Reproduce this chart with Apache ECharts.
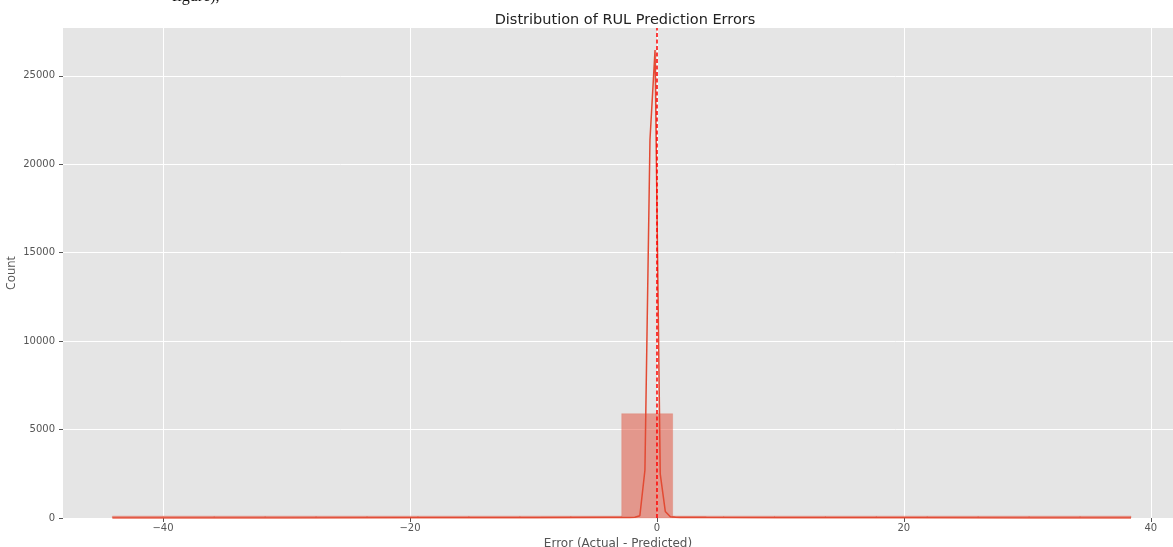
<!DOCTYPE html>
<html>
<head>
<meta charset="utf-8">
<script src="https://cdn.jsdelivr.net/npm/echarts@6/dist/echarts.min.js"></script>
<style>
  html, body { margin: 0; padding: 0; background: #fff; }
  #chart { width: 1173px; height: 547px; }
</style>
</head>
<body>
<div id="chart"></div>
<script>
// Histogram of prediction errors: 20 equal-width bins
const binStart = -44.1;
const binWidth = 4.125;
const binCounts = [6, 4, 5, 8, 6, 9, 10, 14, 18, 30, 5900, 28, 22, 15, 12, 9, 7, 5, 4, 3];

// Kernel density curve (scaled to counts)
const kdeX = [-44.1, -30, -20, -10, -4, -2.61, -2.2, -1.79, -1.38, -0.97, -0.56, -0.15, 0.27, 0.68, 1.09, 1.5, 1.91, 4, 10, 20, 30, 38.4];
const kdeY = [3, 5, 8, 15, 25, 30, 35, 45, 130, 2700, 21400, 26450, 2500, 370, 70, 40, 30, 22, 15, 8, 5, 3];

// Mean error marker
const meanError = -0.03;

// Axis ticks
const xTicks = [-40, -20, 0, 20, 40];
const yTicks = [0, 5000, 10000, 15000, 20000, 25000];

const histData = binCounts.map((c, i) => [binStart + i * binWidth, binStart + (i + 1) * binWidth, c]);
const kdeData = kdeX.map((x, i) => [x, kdeY[i]]);

const chart = echarts.init(document.getElementById('chart'), null, { renderer: 'canvas' });
const font = 'DejaVu Sans, sans-serif';

chart.setOption({
  animation: false,
  backgroundColor: '#ffffff',
  title: {
    text: 'Distribution of RUL Prediction Errors',
    left: 620,
    textAlign: 'center',
    top: 8,
    textStyle: { fontFamily: font, fontSize: 14.5, fontWeight: 'normal', color: '#222' }
  },
  graphic: [
    {
      type: 'text',
      left: 172,
      top: -11,
      style: { text: 'figure),', font: '16px "Liberation Serif", serif', fill: '#111' }
    },
    {
      // y-axis title
      type: 'text',
      x: 12,
      y: 273,
      rotation: Math.PI / 2,
      style: {
        text: 'Count', font: '12px "Open Sans", sans-serif', fill: '#555',
        align: 'center', verticalAlign: 'middle'
      }
    }
  ],
  grid: {
    left: 63, right: 0, top: 28, bottom: 29,
    outerBoundsMode: 'none',
    containLabel: false,
    show: true, backgroundColor: '#e5e5e5', borderWidth: 0
  },
  xAxis: {
    type: 'value',
    min: -48.1,
    max: 41.8,
    name: 'Error (Actual - Predicted)',
    nameLocation: 'middle',
    nameGap: 19,
    nameTextStyle: { fontFamily: font, fontSize: 12, color: '#555' },
    axisLine: { show: false, onZero: false },
    axisTick: { show: true, length: 4, lineStyle: { color: '#555', width: 1 }, customValues: xTicks },
    axisLabel: {
      fontFamily: font, fontSize: 10, color: '#555', margin: 5,
      customValues: xTicks,
      formatter: v => (v < 0 ? '\u2212' + Math.abs(v) : String(v))
    },
    splitLine: { show: true, lineStyle: { color: '#ffffff', width: 1 } }
  },
  yAxis: {
    type: 'value',
    min: 0,
    max: 27700,
    interval: 5000,
    axisLine: { show: false, onZero: false },
    axisTick: { show: true, length: 4, lineStyle: { color: '#555', width: 1 }, customValues: yTicks },
    axisLabel: { fontFamily: font, fontSize: 10, color: '#555', margin: 8,
      customValues: yTicks, formatter: v => String(v) },
    splitLine: { show: true, lineStyle: { color: '#ffffff', width: 1 } }
  },
  series: [
    {
      type: 'custom',
      name: 'Count',
      data: histData,
      encode: { x: [0, 1], y: 2 },
      renderItem: function (params, api) {
        const p0 = api.coord([api.value(0), api.value(2)]);
        const p1 = api.coord([api.value(1), 0]);
        let h = p1[1] - p0[1];
        if (h < 2) h = 2;
        return {
          type: 'rect',
          shape: { x: p0[0], y: p1[1] - h, width: p1[0] - p0[0], height: h },
          style: { fill: 'rgba(226,74,51,0.5)', stroke: 'rgba(226,74,51,0.25)', lineWidth: 0.8 }
        };
      },
      z: 2
    },
    {
      type: 'line',
      name: 'KDE',
      data: kdeData,
      showSymbol: false,
      smooth: false,
      lineStyle: { color: '#e24a33', width: 1.5 },
      z: 3,
      markLine: {
        silent: true,
        symbol: ['none', 'none'],
        label: { show: false },
        lineStyle: { color: '#ff0000', type: [4, 2.5], width: 1.5 },
        data: [{ xAxis: meanError }]
      }
    }
  ]
});
</script>
</body>
</html>
